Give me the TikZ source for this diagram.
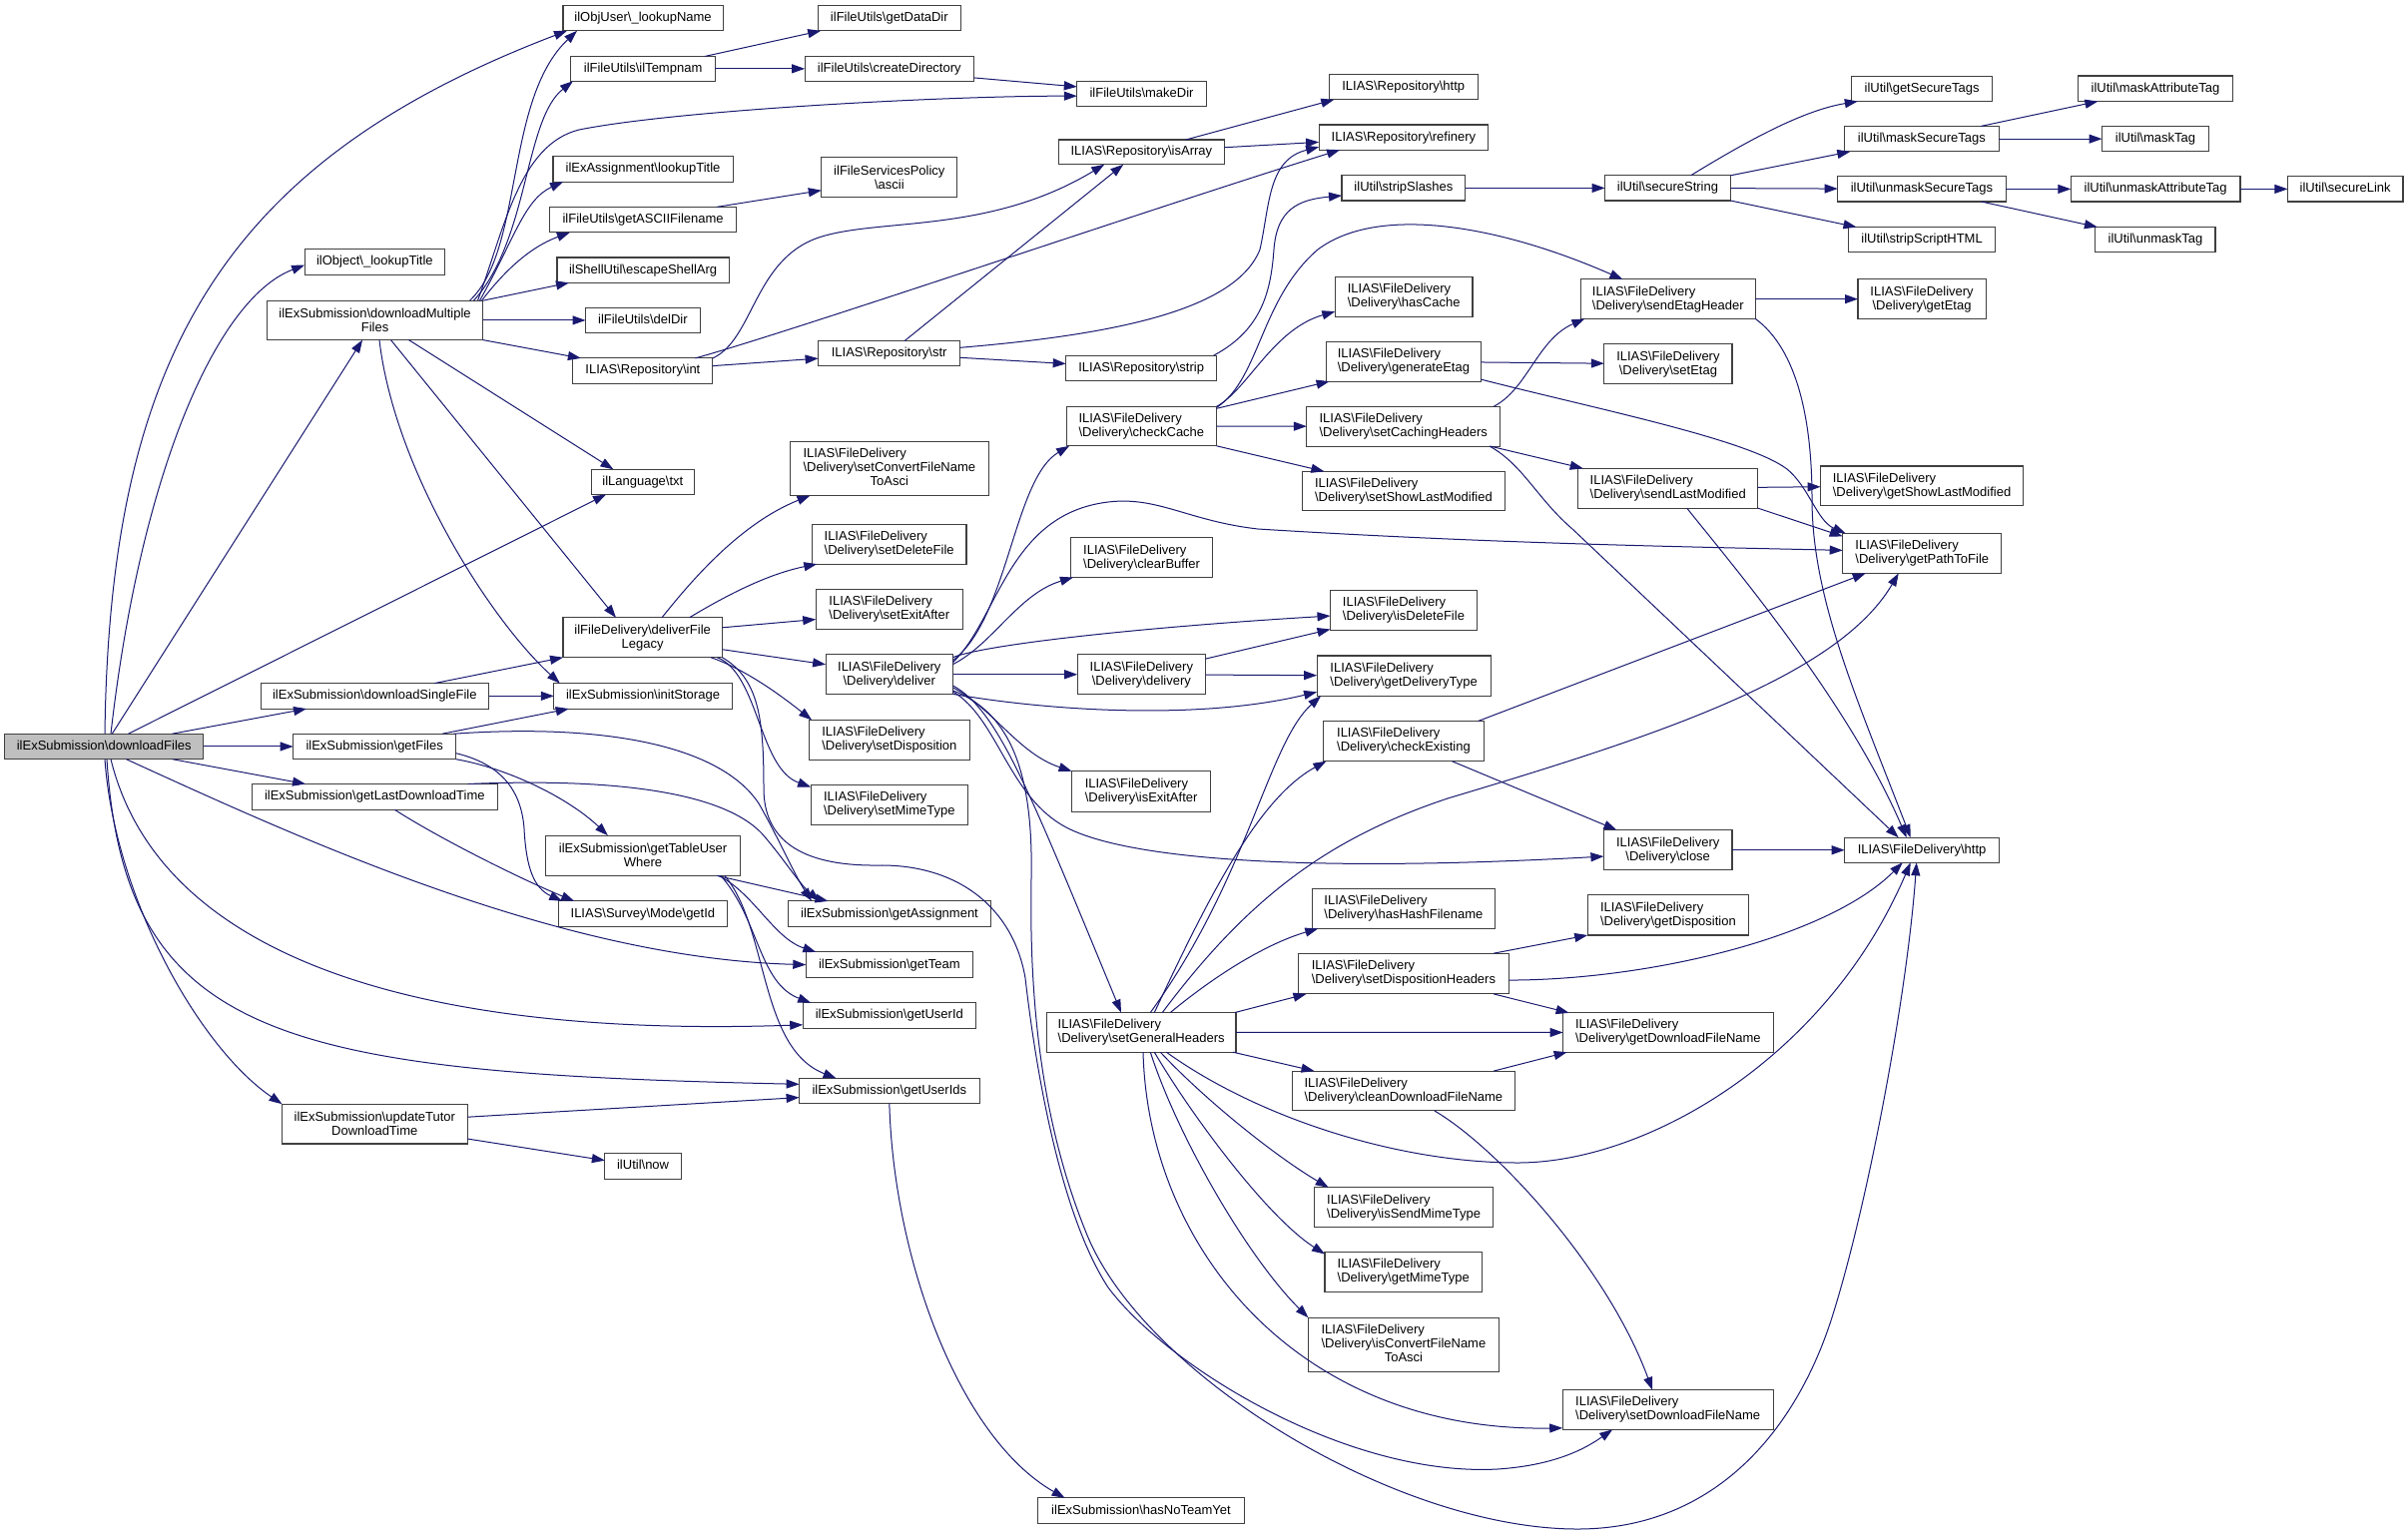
\documentclass[tikz,border=0pt]{standalone}
\usepackage{fontspec}
\setmainfont{Liberation Sans}
\usetikzlibrary{arrows.meta,calc}
\definecolor{edgec}{HTML}{191970}
\definecolor{rootfill}{HTML}{BFBFBF}
\definecolor{boxline}{HTML}{404040}
\newcommand\BS{\textbackslash}
\newcommand\nd[7]{\node[#1,minimum width={#4-#3},minimum height={#6-#5}] (#2) at ({(#3+#4)/2},{(#5+#6)/2}) {#7};}
\begin{document}
\begin{tikzpicture}[x=1pt,y=-1pt,
  base/.style={draw=boxline,line width=1.1pt,fill=white,inner sep=0pt,outer sep=0pt,font=\fontsize{13}{14}\selectfont},
  bx/.style={base,text height=9.6pt,text depth=2.8pt},
  root/.style={bx,fill=rootfill},
  bc/.style={base,align=center},
  bl/.style={base,align=left},
  bt/.style={base},
  e/.style={draw=edgec,line width=1pt,-{Triangle[length=13pt,width=9pt]}}]
\fill[white] (0,0) rectangle (2412,1540);
\useasboundingbox (0,0) rectangle (2412,1540);
% ---------------- nodes ----------------
\nd{root}{DF}{4.7}{203.8}{735.2}{760.7}{ilExSubmission\BS downloadFiles}
\nd{bx}{lookupTitleObj}{305.1}{445.6}{249.8}{275.3}{ilObject\BS\_lookupTitle}
\nd{bc}{dMF}{267.5}{483.6}{301.2}{340.6}{ilExSubmission\BS downloadMultiple\\Files}
\nd{bx}{dSF}{261.2}{489.5}{684.6}{710.1}{ilExSubmission\BS downloadSingleFile}
\nd{bx}{getFiles}{293.6}{456.7}{735.2}{760.7}{ilExSubmission\BS getFiles}
\nd{bx}{getLDT}{252.1}{498.6}{785.5}{811.3}{ilExSubmission\BS getLastDownloadTime}
\nd{bc}{updTutor}{282.5}{468.1}{1106.2}{1146}{ilExSubmission\BS updateTutor\\DownloadTime}
\nd{bx}{lookupName}{564}{724.2}{5.6}{30.8}{ilObjUser\BS\_lookupName}
\nd{bx}{ilTempnam}{571.9}{716.3}{56.4}{81.3}{ilFileUtils\BS ilTempnam}
\nd{bx}{exaLookup}{554}{734.1}{156.9}{182.1}{ilExAssignment\BS lookupTitle}
\nd{bx}{getASCII}{550.9}{737.3}{207.3}{232.8}{ilFileUtils\BS getASCIIFilename}
\nd{bx}{escape}{558}{730.2}{258}{283.3}{ilShellUtil\BS escapeShellArg}
\nd{bx}{delDir}{586.5}{701.3}{308.5}{333.3}{ilFileUtils\BS delDir}
\nd{bx}{repInt}{573.9}{713.9}{358.9}{384.1}{ILIAS\BS Repository\BS int}
\nd{bx}{txt}{592.4}{695.3}{470.3}{495.5}{ilLanguage\BS txt}
\nd{bc}{dfl}{564}{723.4}{618.8}{658.7}{ilFileDelivery\BS deliverFile\\Legacy}
\nd{bx}{initStorage}{554.8}{733.3}{684.6}{710.1}{ilExSubmission\BS initStorage}
\nd{bc}{gtuw}{546.9}{741.2}{837.1}{877.4}{ilExSubmission\BS getTableUser\\Where}
\nd{bx}{getId}{559.2}{728.6}{902.9}{928.7}{ILIAS\BS Survey\BS Mode\BS getId}
\nd{bx}{now}{605.9}{682.3}{1155.7}{1181.2}{ilUtil\BS now}
\nd{bx}{getDataDir}{819.2}{962.5}{5.6}{30.8}{ilFileUtils\BS getDataDir}
\nd{bx}{createDir}{806.1}{975.5}{56.4}{81.3}{ilFileUtils\BS createDirectory}
\nd{bc}{ascii}{822.8}{958.9}{157.9}{197.7}{ilFileServicesPolicy\\\BS ascii}
\nd{bx}{repStr}{819.6}{961.7}{341.6}{366.8}{ILIAS\BS Repository\BS str}
\nd{bt}{setConv}{791.5}{990.2}{442.5}{496.5}{\begin{tabular}{@{}l@{}}ILIAS\BS FileDelivery\\\BS Delivery\BS setConvertFileName\\\multicolumn{1}{@{}c@{}}{ToAsci}\end{tabular}}
\nd{bl}{setDel}{813.3}{968}{525.1}{565.1}{ILIAS\BS FileDelivery\\\BS Delivery\BS setDeleteFile}
\nd{bl}{setExit}{817.2}{964.4}{590.6}{630.5}{ILIAS\BS FileDelivery\\\BS Delivery\BS setExitAfter}
\nd{bc}{deliver}{827.1}{954.5}{655.6}{695.9}{ILIAS\BS FileDelivery\\\BS Delivery\BS deliver}
\nd{bl}{setDisp}{810.1}{971.6}{721.4}{761.4}{ILIAS\BS FileDelivery\\\BS Delivery\BS setDisposition}
\nd{bl}{setMime}{812.1}{969.6}{786.5}{826.4}{ILIAS\BS FileDelivery\\\BS Delivery\BS setMimeType}
\nd{bx}{getAssignment}{789.5}{992.5}{902.9}{928.7}{ilExSubmission\BS getAssignment}
\nd{bx}{getTeam}{807.3}{974.3}{953.9}{979.3}{ilExSubmission\BS getTeam}
\nd{bx}{getUserId}{804.2}{977.5}{1004.8}{1030.3}{ilExSubmission\BS getUserId}
\nd{bx}{getUserIds}{800.6}{981.1}{1080.4}{1105.6}{ilExSubmission\BS getUserIds}
\nd{bx}{makeDir}{1078.8}{1208.3}{81.3}{106.5}{ilFileUtils\BS makeDir}
\nd{bx}{isArray}{1060.2}{1226.5}{140}{164.8}{ILIAS\BS Repository\BS isArray}
\nd{bx}{strip}{1067.7}{1218.6}{356.2}{381.4}{ILIAS\BS Repository\BS strip}
\nd{bl}{checkCache}{1068.1}{1218.6}{407.3}{446.8}{ILIAS\BS FileDelivery\\\BS Delivery\BS checkCache}
\nd{bl}{clearBuffer}{1072.9}{1214.2}{538.9}{578.5}{ILIAS\BS FileDelivery\\\BS Delivery\BS clearBuffer}
\nd{bc}{delivery}{1079.2}{1207.5}{655.6}{695.9}{ILIAS\BS FileDelivery\\\BS Delivery\BS delivery}
\nd{bl}{isExitAfter}{1073.6}{1212.6}{772.7}{813.4}{ILIAS\BS FileDelivery\\\BS Delivery\BS isExitAfter}
\nd{bl}{setGH}{1048.3}{1238}{1014.5}{1054.2}{ILIAS\BS FileDelivery\\\BS Delivery\BS setGeneralHeaders}
\nd{bx}{hasNoTeamYet}{1039.6}{1246.3}{1500.9}{1526.5}{ilExSubmission\BS hasNoTeamYet}
\nd{bx}{repHttp}{1331.3}{1480.1}{74.6}{99.8}{ILIAS\BS Repository\BS http}
\nd{bx}{refinery}{1321.1}{1490.8}{125}{150.2}{ILIAS\BS Repository\BS refinery}
\nd{bx}{stripSlashes}{1344}{1467.9}{175.8}{201}{ilUtil\BS stripSlashes}
\nd{bl}{hasCache}{1337.3}{1475}{277.3}{317.1}{ILIAS\BS FileDelivery\\\BS Delivery\BS hasCache}
\nd{bl}{generateEtag}{1328.6}{1483.3}{342.3}{382.1}{ILIAS\BS FileDelivery\\\BS Delivery\BS generateEtag}
\nd{bl}{setCachingHeaders}{1308.8}{1502.7}{407.3}{447.1}{ILIAS\BS FileDelivery\\\BS Delivery\BS setCachingHeaders}
\nd{bl}{setShowLastModified}{1304.4}{1507.4}{472.3}{511.8}{ILIAS\BS FileDelivery\\\BS Delivery\BS setShowLastModified}
\nd{bl}{isDeleteFile}{1332.5}{1479.4}{591.6}{631.5}{ILIAS\BS FileDelivery\\\BS Delivery\BS isDeleteFile}
\nd{bl}{getDeliveryType}{1319.1}{1493.2}{657}{697.3}{ILIAS\BS FileDelivery\\\BS Delivery\BS getDeliveryType}
\nd{bl}{checkExisting}{1325.4}{1486.5}{722.5}{762.7}{ILIAS\BS FileDelivery\\\BS Delivery\BS checkExisting}
\nd{bl}{hasHashFilename}{1314.3}{1497.5}{890.2}{930.4}{ILIAS\BS FileDelivery\\\BS Delivery\BS hasHashFilename}
\nd{bl}{setDispHeaders}{1300.5}{1511.4}{955.2}{995.9}{ILIAS\BS FileDelivery\\\BS Delivery\BS setDispositionHeaders}
\nd{bl}{cleanDFN}{1294.5}{1517.3}{1073.1}{1112.9}{ILIAS\BS FileDelivery\\\BS Delivery\BS cleanDownloadFileName}
\nd{bl}{isSendMime}{1316.7}{1495.6}{1189.8}{1229.6}{ILIAS\BS FileDelivery\\\BS Delivery\BS isSendMimeType}
\nd{bl}{getMimeType}{1327}{1484.5}{1254.5}{1294.6}{ILIAS\BS FileDelivery\\\BS Delivery\BS getMimeType}
\nd{bt}{isConvert}{1310.4}{1501.5}{1320.2}{1374.9}{\begin{tabular}{@{}l@{}}ILIAS\BS FileDelivery\\\BS Delivery\BS isConvertFileName\\\multicolumn{1}{@{}c@{}}{ToAsci}\end{tabular}}
\nd{bx}{secureString}{1607.6}{1733.4}{175.8}{201}{ilUtil\BS secureString}
\nd{bl}{sendEtagHeader}{1583.4}{1758.3}{279.9}{319.4}{ILIAS\BS FileDelivery\\\BS Delivery\BS sendEtagHeader}
\nd{bc}{setEtag}{1606.8}{1735}{344.9}{384.7}{ILIAS\BS FileDelivery\\\BS Delivery\BS setEtag}
\nd{bl}{sendLastModified}{1580.7}{1760.7}{469.3}{509.1}{ILIAS\BS FileDelivery\\\BS Delivery\BS sendLastModified}
\nd{bc}{close}{1606.4}{1735}{831.6}{871.9}{ILIAS\BS FileDelivery\\\BS Delivery\BS close}
\nd{bl}{getDisposition}{1590.2}{1751.6}{896.7}{937}{ILIAS\BS FileDelivery\\\BS Delivery\BS getDisposition}
\nd{bl}{getDFN}{1565.6}{1776.1}{1014.8}{1054.2}{ILIAS\BS FileDelivery\\\BS Delivery\BS getDownloadFileName}
\nd{bl}{setDFN}{1565.2}{1776.1}{1392.8}{1432.3}{ILIAS\BS FileDelivery\\\BS Delivery\BS setDownloadFileName}
\nd{bx}{getSecureTags}{1854.8}{1995.3}{76.3}{101.5}{ilUtil\BS getSecureTags}
\nd{bx}{maskSecureTags}{1847.3}{2002.4}{126.4}{151.9}{ilUtil\BS maskSecureTags}
\nd{bx}{unmaskSecureTags}{1840.7}{2009.1}{176.8}{202}{ilUtil\BS unmaskSecureTags}
\nd{bx}{stripScriptHTML}{1851.5}{1998.7}{227.5}{252.7}{ilUtil\BS stripScriptHTML}
\nd{bc}{getEtag}{1861}{1989.1}{279.9}{319.4}{ILIAS\BS FileDelivery\\\BS Delivery\BS getEtag}
\nd{bl}{getShowLastModified}{1823.6}{2026.5}{467}{506.5}{ILIAS\BS FileDelivery\\\BS Delivery\BS getShowLastModified}
\nd{bl}{getPathToFile}{1845.7}{2004.9}{534.4}{574.4}{ILIAS\BS FileDelivery\\\BS Delivery\BS getPathToFile}
\nd{bx}{fdHttp}{1847.7}{2002.4}{839.2}{864.3}{ILIAS\BS FileDelivery\BS http}
\nd{bx}{maskAttributeTag}{2081.4}{2236.5}{76}{101.5}{ilUtil\BS maskAttributeTag}
\nd{bx}{maskTag}{2105.5}{2212.4}{126.4}{151.9}{ilUtil\BS maskTag}
\nd{bx}{unmaskAttributeTag}{2074.3}{2244}{176.8}{202}{ilUtil\BS unmaskAttributeTag}
\nd{bx}{unmaskTag}{2098.9}{2219}{227.5}{252.7}{ilUtil\BS unmaskTag}
\nd{bx}{secureLink}{2291.4}{2407}{176.8}{202}{ilUtil\BS secureLink}
% ---------------- edges ----------------
% from downloadFiles
\draw[e] ($(DF.north west)+(100.3,0)$) .. controls (110,350) and (230,160) .. ($(lookupName.south west)+(4,0)$);
\draw[e] ($(DF.north west)+(106.3,0)$) .. controls (140,480) and (215,300) .. ($(lookupTitleObj.west)+(0,3)$);
\draw[e] (DF) -- (dMF);
\draw[e] ($(DF.north west)+(123.8,0)$) -- ($(txt.south west)+(14.6,0)$);
\draw[e] (DF) -- (dSF);
\draw[e] (DF) -- (getFiles);
\draw[e] (DF) -- (getLDT);
\draw[e] ($(DF.south west)+(121.8,0)$) .. controls (300,840) and (560,960) .. (getTeam.west);
\draw[e] ($(DF.south west)+(106.3,0)$) .. controls (160,960) and (420,1040) .. ($(getUserId.south west)+(0,-3.5)$);
\draw[e] ($(DF.south west)+(102.3,0)$) .. controls (125,1040) and (280,1075) .. ($(getUserIds.north west)+(0,5.9)$);
\draw[e] ($(DF.south west)+(100.3,0)$) .. controls (115,900) and (200,1050) .. (updTutor.north west);
% from downloadMultipleFiles
\draw[e] ($(dMF.north west)+(203,0)$) .. controls (525,250) and (505,100) .. ($(lookupName.south west)+(14,0)$);
\draw[e] ($(dMF.north west)+(207,0)$) .. controls (530,240) and (525,120) .. ($(ilTempnam.south west)+(2,0)$);
\draw[e] ($(dMF.north west)+(211,0)$) .. controls (505,230) and (520,145) .. (580,130) .. controls (680,110) and (950,96) .. ($(makeDir.west)+(0,2.3)$);
\draw[e] ($(dMF.north west)+(213,0)$) .. controls (515,240) and (525,200) .. ($(exaLookup.south west)+(10,0)$);
\draw[e] ($(dMF.north west)+(215,0)$) .. controls (505,272) and (530,248) .. ($(getASCII.south west)+(20,0)$);
\draw[e] (dMF.north east) -- ($(escape.south west)+(12,0)$);
\draw[e] (dMF) -- (delDir);
\draw[e] (dMF.south east) -- ($(repInt.north west)+(8,0)$);
\draw[e] ($(dMF.south west)+(142,0)$) -- ($(txt.north west)+(22,0)$);
\draw[e] ($(dMF.south west)+(124,0)$) -- ($(dfl.north west)+(53,0)$);
\draw[e] ($(dMF.south west)+(112.5,0)$) .. controls (395,470) and (490,620) .. ($(initStorage.north west)+(6,0)$);
% downloadSingleFile
\draw[e] ($(dSF.north west)+(174,0)$) -- (dfl.south west);
\draw[e] (dSF) -- (initStorage);
% getFiles
\draw[e] ($(getFiles.north west)+(149.4,0)$) -- ($(initStorage.south west)+(15,0)$);
\draw[e] ($(getFiles.north west)+(161,0)$) .. controls (600,725) and (720,745) .. (760,805) .. controls (780,840) and (795,875) .. ($(getAssignment.north west)+(23.5,0)$);
\draw[e] (getFiles.south east) .. controls (510,770) and (570,800) .. ($(gtuw.north west)+(62,0)$);
\draw[e] ($(getFiles.south east)+(0,-6)$) .. controls (500,765) and (522,790) .. (525,830) .. controls (527,870) and (535,890) .. ($(getId.north west)+(4,0)$);
% getLastDownloadTime
\draw[e] ($(getLDT.north west)+(216.5,0)$) .. controls (600,780) and (720,790) .. (763,835) .. controls (785,860) and (800,885) .. ($(getAssignment.north west)+(31.5,0)$);
\draw[e] ($(getLDT.south west)+(143.3,0)$) .. controls (440,840) and (520,880) .. ($(getId.north west)+(16,0)$);
% getTableUserWhere
\draw[e] ($(gtuw.south west)+(171.3,0)$) -- ($(getAssignment.north west)+(40,0)$);
\draw[e] ($(gtuw.south west)+(173,0)$) .. controls (755,895) and (775,940) .. ($(getTeam.north west)+(10,0)$);
\draw[e] ($(gtuw.south west)+(175,0)$) .. controls (760,920) and (760,985) .. ($(getUserId.north west)+(8,0)$);
\draw[e] ($(gtuw.south west)+(179,0)$) .. controls (770,930) and (760,1050) .. ($(getUserIds.north west)+(37,0)$);
% updateTutorDownloadTime
\draw[e] ($(updTutor.north east)+(0,13)$) -- ($(getUserIds.south west)+(0,-6)$);
\draw[e] ($(updTutor.south east)+(0,-5)$) -- ($(now.west)+(0,-5.8)$);
% getUserIds
\draw[e] (getUserIds.south) .. controls (895,1260) and (960,1440) .. ($(hasNoTeamYet.north west)+(27,0)$);
% file utils
\draw[e] ($(ilTempnam.north east)+(-10,0)$) -- ($(getDataDir.south west)+(3,0)$);
\draw[e] (ilTempnam) -- (createDir);
\draw[e] ($(createDir.south east)+(0,-3.4)$) -- ($(makeDir.north west)+(0,5.6)$);
\draw[e] ($(getASCII.north east)+(-19,0)$) -- ($(ascii.south west)+(0,-7)$);
% repository
\draw[e] (repInt.north east) .. controls (755,340) and (755,260) .. (820,238) .. controls (880,218) and (990,235) .. ($(isArray.south west)+(46,0)$);
\draw[e] ($(repInt.north west)+(122.5,0)$) .. controls (800,330) and (1150,210) .. ($(refinery.south west)+(21,0)$);
\draw[e] (repInt) -- (repStr);
\draw[e] ($(repStr.north west)+(86.4,0)$) -- ($(isArray.south west)+(65,0)$);
\draw[e] ($(repStr.north east)+(0,6.7)$) .. controls (1120,335) and (1238,310) .. (1262,250) .. controls (1272,205) and (1270,160) .. ($(refinery.south west)+(0,-3)$);
\draw[e] (repStr) -- (strip);
\draw[e] ($(isArray.north west)+(127.5,0)$) -- ($(repHttp.south west)+(5,0)$);
\draw[e] (isArray) -- (refinery);
\draw[e] ($(strip.north east)+(-3,0)$) .. controls (1265,330) and (1273,290) .. (1276,250) .. controls (1279,210) and (1300,200) .. ($(stripSlashes.south west)+(0,-5)$);
% ilUtil
\draw[e] (stripSlashes) -- (secureString);
\draw[e] ($(secureString.north west)+(86,0)$) .. controls (1760,135) and (1810,110) .. ($(getSecureTags.south west)+(6,0)$);
\draw[e] (secureString.north east) -- ($(maskSecureTags.south west)+(6,0)$);
\draw[e] (secureString) -- (unmaskSecureTags);
\draw[e] (secureString.south east) -- ($(stripScriptHTML.north west)+(8,0)$);
\draw[e] ($(maskSecureTags.north west)+(137,0)$) -- ($(maskAttributeTag.south west)+(20,0)$);
\draw[e] (maskSecureTags) -- (maskTag);
\draw[e] (unmaskSecureTags) -- (unmaskAttributeTag);
\draw[e] ($(unmaskSecureTags.south west)+(143.8,0)$) -- ($(unmaskTag.north west)+(2,0)$);
\draw[e] (unmaskAttributeTag) -- (secureLink);
% checkCache
\draw[e] (checkCache.north east) .. controls (1250,390) and (1275,330) .. ($(hasCache.south west)+(0,-5)$);
\draw[e] ($(checkCache.north east)+(0,1)$) .. controls (1262,380) and (1262,300) .. (1320,250) .. controls (1380,205) and (1500,225) .. ($(sendEtagHeader.north west)+(42,0)$);
\draw[e] ($(checkCache.north east)+(0,2)$) -- ($(generateEtag.south west)+(3,0)$);
\draw[e] (checkCache) -- (setCachingHeaders);
\draw[e] (checkCache.south east) -- ($(setShowLastModified.north west)+(22,0)$);
% generateEtag
\draw[e] (generateEtag) -- (setEtag);
\draw[e] ($(generateEtag.south east)+(0,-2)$) .. controls (1600,410) and (1750,440) .. (1790,470) .. controls (1812,488) and (1820,522) .. ($(getPathToFile.north west)+(3,0)$);
% deliver
\draw[e] ($(deliver.north east)+(0,8)$) .. controls (1000,620) and (1010,515) .. (1110,503) .. controls (1160,497) and (1190,522) .. (1260,530) .. controls (1500,545) and (1700,548) .. ($(getPathToFile.west)+(0,-3)$);
\draw[e] ($(deliver.north east)+(0,10)$) .. controls (995,645) and (1020,595) .. ($(clearBuffer.south west)+(2,0)$);
\draw[e] ($(deliver.north east)+(0,6)$) .. controls (1010,620) and (1015,480) .. ($(checkCache.south west)+(3,0)$);
\draw[e] ($(deliver.north east)+(0,3)$) .. controls (990,645) and (1150,628) .. ($(isDeleteFile.west)+(0,5.5)$);
\draw[e] (deliver) -- (delivery);
\draw[e] ($(deliver.south east)+(0,-0.5)$) .. controls (1050,712) and (1200,722) .. ($(getDeliveryType.south west)+(0,-4)$);
\draw[e] ($(deliver.south east)+(0,-7)$) .. controls (995,710) and (1020,755) .. (isExitAfter.north west);
\draw[e] ($(deliver.south east)+(0,-3)$) .. controls (1000,720) and (1010,800) .. (1070,830) .. controls (1130,860) and (1300,875) .. ($(close.west)+(0,6.3)$);
\draw[e] ($(deliver.south east)+(0,-9)$) .. controls (1000,712) and (1030,790) .. ($(setGH.north west)+(74.7,0)$);
\draw[e] ($(deliver.south east)+(0,-4)$) .. controls (1015,715) and (1035,780) .. (1033,880) .. controls (1031,990) and (1040,1120) .. (1090,1240) .. controls (1150,1380) and (1400,1532) .. (1580,1532) .. controls (1720,1532) and (1800,1430) .. (1835,1320) .. controls (1870,1210) and (1910,1000) .. ($(fdHttp.south west)+(72,0)$);
% deliverFileLegacy
\draw[e] (dfl.south east) .. controls (760,680) and (765,720) .. (765,790) .. controls (765,840) and (800,868) .. (880,867) .. controls (960,866) and (1015,910) .. (1027,980) .. controls (1035,1050) and (1058,1210) .. (1110,1290) .. controls (1170,1370) and (1350,1480) .. (1500,1472) .. controls (1560,1468) and (1590,1450) .. ($(setDFN.south west)+(50,0)$);
\draw[e] ($(dfl.north west)+(99,0)$) .. controls (690,585) and (740,525) .. ($(setConv.south west)+(20,0)$);
\draw[e] ($(dfl.north west)+(126.5,0)$) .. controls (730,595) and (770,575) .. ($(setDel.south west)+(5,0)$);
\draw[e] ($(dfl.north east)+(0,10)$) -- ($(setExit.west)+(0,10)$);
\draw[e] ($(dfl.south east)+(0,-8)$) -- ($(deliver.west)+(0,-10)$);
\draw[e] ($(dfl.south west)+(148,0)$) .. controls (745,670) and (780,695) .. ($(setDisp.north west)+(3,0)$);
\draw[e] ($(dfl.south east)+(-5,0)$) .. controls (760,675) and (760,770) .. ($(setMime.north west)+(0,2)$);
% delivery
\draw[e] ($(delivery.north east)+(0,4.5)$) -- ($(isDeleteFile.south west)+(0,-1)$);
\draw[e] (delivery) -- (getDeliveryType);
% checkExisting, close
\draw[e] ($(checkExisting.north east)+(-6,0)$) -- ($(getPathToFile.south west)+(23,0)$);
\draw[e] ($(checkExisting.south west)+(129,0)$) -- ($(close.north west)+(13,0)$);
\draw[e] (close) -- (fdHttp);
% setCachingHeaders
\draw[e] ($(setCachingHeaders.north east)+(-6.6,0)$) .. controls (1530,390) and (1540,340) .. ($(sendEtagHeader.south west)+(4,0)$);
\draw[e] ($(setCachingHeaders.south east)+(-10,0)$) -- ($(sendLastModified.north west)+(5,0)$);
\draw[e] ($(setCachingHeaders.south east)+(-10.7,0)$) .. controls (1525,465) and (1540,500) .. (1575,530) -- ($(fdHttp.north west)+(54,0)$);
% sendEtagHeader
\draw[e] (sendEtagHeader) -- (getEtag);
\draw[e] (sendEtagHeader.south east) .. controls (1800,350) and (1815,420) .. (1815,500) .. controls (1815,600) and (1860,700) .. ($(fdHttp.north west)+(66,0)$);
% sendLastModified
\draw[e] (sendLastModified) -- (getShowLastModified);
\draw[e] (sendLastModified.south east) -- ($(getPathToFile.north west)+(0,3)$);
\draw[e] ($(sendLastModified.south west)+(109,0)$) .. controls (1730,560) and (1850,700) .. ($(fdHttp.north west)+(62,0)$);
% setGeneralHeaders
\draw[e] ($(setGH.north west)+(104,0)$) .. controls (1250,880) and (1270,745) .. ($(getDeliveryType.south west)+(4,0)$);
\draw[e] ($(setGH.north west)+(108,0)$) .. controls (1210,900) and (1260,800) .. ($(checkExisting.south west)+(3,0)$);
\draw[e] ($(setGH.north west)+(116,0)$) .. controls (1250,900) and (1330,840) .. (1450,800) .. controls (1650,740) and (1840,680) .. ($(getPathToFile.south west)+(56,0)$);
\draw[e] ($(setGH.north west)+(124,0)$) .. controls (1220,975) and (1270,945) .. ($(hasHashFilename.south west)+(6,0)$);
\draw[e] ($(setGH.north east)+(-1,0)$) -- ($(setDispHeaders.south west)+(8,0)$);
\draw[e] (setGH) -- (getDFN);
\draw[e] ($(setGH.south east)+(-3,0)$) -- ($(cleanDFN.north west)+(22,0)$);
\draw[e] ($(setGH.south west)+(120,0)$) .. controls (1260,1120) and (1400,1165) .. (1520,1165) .. controls (1650,1165) and (1830,1060) .. ($(fdHttp.south west)+(66,0)$);
\draw[e] ($(setGH.south west)+(114,0)$) .. controls (1210,1105) and (1280,1160) .. ($(isSendMime.north west)+(14,0)$);
\draw[e] ($(setGH.south west)+(108,0)$) .. controls (1195,1120) and (1270,1220) .. ($(getMimeType.north west)+(0,2)$);
\draw[e] ($(setGH.south west)+(104,0)$) .. controls (1180,1140) and (1250,1260) .. (isConvert.north west);
\draw[e] ($(setGH.south west)+(96.7,0)$) .. controls (1150,1250) and (1300,1435) .. ($(setDFN.south west)+(0,-1.5)$);
% setDispositionHeaders
\draw[e] ($(setDispHeaders.north west)+(195.6,0)$) -- (getDisposition.south west);
\draw[e] ($(setDispHeaders.south west)+(195.6,0)$) -- ($(getDFN.north west)+(6,0)$);
\draw[e] ($(setDispHeaders.east)+(0,6.5)$) .. controls (1650,982) and (1830,940) .. ($(fdHttp.south west)+(58,0)$);
% cleanDownloadFileName
\draw[e] ($(cleanDFN.north west)+(201.6,0)$) -- ($(getDFN.south west)+(4,0)$);
\draw[e] ($(cleanDFN.south west)+(142.3,0)$) .. controls (1500,1150) and (1610,1270) .. ($(setDFN.north west)+(90,0)$);
\end{tikzpicture}
\end{document}
